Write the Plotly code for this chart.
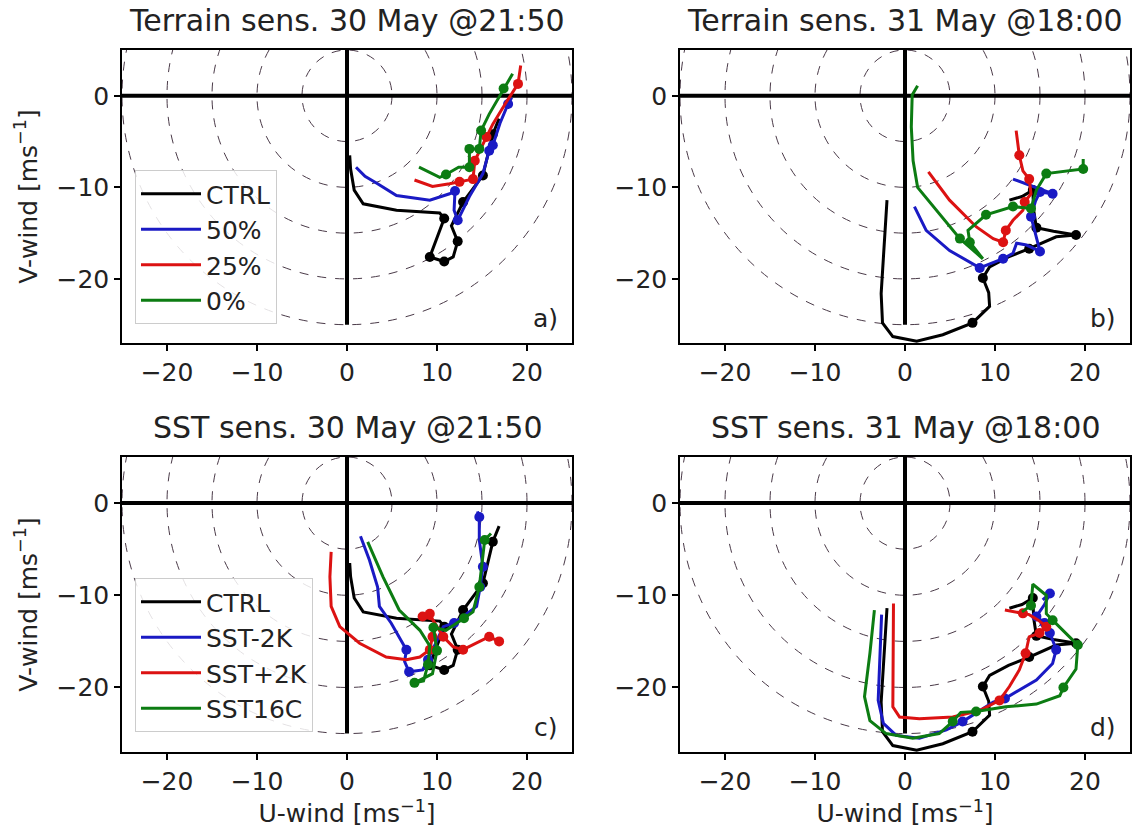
import numpy as np
import plotly.graph_objects as go

# ---------------- data (u, v in m/s; mk = 1 where a height marker is drawn) ----------------
# 30 May @21:50 control run (panels a and c)
ctrl30_u = [0.3, 0.4, 0.8, 1.8, 5.5, 10.3, 10.8, 9.2, 10.8, 11.8, 12.3, 11.6, 12.9, 15.1, 16.2, 16.9]
ctrl30_v = [-6.5, -8.0, -10.3, -11.8, -12.5, -12.8, -13.4, -17.6, -18.1, -17.6, -15.9, -14.2, -11.6, -8.7, -4.2, -2.5]
ctrl30_mk = [0, 0, 0, 0, 0, 0, 1, 1, 1, 0, 1, 0, 1, 1, 1, 0]

# 31 May @18:00 control run (panels b and d)
ctrl31_u = [-2.0, -2.3, -2.65, -2.5, -1.35, 1.3, 4.2, 7.5, 9.4, 9.3, 8.65, 9.4, 11.5, 13.8, 16.8, 19.0, 16.5, 14.6, 14.3, 14.2, 13.0, 11.6]
ctrl31_v = [-11.4, -16.1, -21.6, -24.8, -26.3, -26.8, -26.1, -24.8, -23.0, -21.5, -19.9, -18.7, -17.6, -16.7, -15.4, -15.2, -14.8, -14.4, -12.5, -10.3, -11.0, -11.4]
ctrl31_mk = [0, 0, 0, 0, 0, 0, 0, 1, 0, 0, 1, 0, 0, 1, 0, 1, 0, 1, 0, 1, 0, 0]

# panel a: terrain sensitivity, 30 May
a_t50_u = [1.0, 2.0, 3.4, 5.5, 9.2, 11.4, 12.0, 11.9, 12.3, 13.6, 15.1, 15.8, 16.2, 17.0, 17.9, 18.3]
a_t50_v = [-7.8, -8.8, -9.6, -10.9, -11.4, -10.7, -10.4, -12.5, -13.6, -11.0, -8.5, -6.0, -5.4, -3.0, -0.9, -0.2]
a_t50_mk = [0, 0, 0, 0, 0, 0, 1, 0, 1, 0, 0, 1, 1, 0, 1, 0]
a_t25_u = [7.5, 9.5, 11.4, 12.5, 14.0, 14.2, 15.5, 16.2, 17.5, 19.0, 19.3]
a_t25_v = [-9.2, -9.9, -9.6, -9.4, -9.1, -7.1, -4.5, -3.1, -1.0, 1.3, 3.3]
a_t25_mk = [0, 0, 0, 1, 1, 1, 1, 0, 0, 1, 0]
a_t0_u = [8.0, 10.3, 11.0, 12.4, 13.6, 13.6, 14.7, 14.9, 15.8, 17.4, 18.4]
a_t0_v = [-7.8, -8.9, -8.6, -7.8, -7.8, -5.8, -5.8, -3.8, -2.0, 0.8, 2.4]
a_t0_mk = [0, 0, 1, 0, 1, 1, 1, 1, 0, 1, 0]

# panel b: terrain sensitivity, 31 May
b_t50_u = [1.05, 2.35, 4.95, 8.3, 10.9, 12.0, 12.4, 13.5, 15.0, 14.6, 14.0, 14.5, 15.0, 16.4, 14.5, 12.0]
b_t50_v = [-12.1, -14.7, -16.9, -18.8, -17.8, -17.2, -16.1, -16.3, -17.0, -15.4, -13.2, -11.5, -10.5, -10.7, -10.0, -9.1]
b_t50_mk = [0, 0, 0, 1, 1, 0, 0, 0, 1, 0, 1, 0, 1, 1, 0, 0]
b_t25_u = [2.6, 4.95, 7.9, 9.8, 10.9, 11.2, 12.0, 13.1, 13.3, 14.0, 13.8, 13.1, 12.7, 12.35]
b_t25_v = [-8.3, -11.4, -14.3, -15.6, -16.0, -14.7, -13.6, -12.5, -11.6, -10.7, -9.1, -8.2, -6.5, -3.8]
b_t25_mk = [0, 0, 0, 0, 1, 1, 0, 0, 1, 0, 1, 0, 1, 0]
b_t0_u = [1.4, 0.8, 0.7, 0.9, 1.4, 3.5, 6.1, 8.65, 7.2, 7.0, 9.0, 12.0, 14.0, 14.6, 15.7, 19.8, 19.8]
b_t0_v = [1.1, 0.1, -3.4, -7.1, -10.0, -12.5, -15.6, -17.8, -16.0, -14.7, -13.0, -12.1, -12.3, -10.3, -8.5, -8.0, -6.9]
b_t0_mk = [0, 0, 0, 0, 0, 0, 1, 0, 1, 0, 1, 1, 1, 0, 1, 1, 0]

# panel c: SST sensitivity, 30 May
c_m2_u = [1.5, 2.5, 3.4, 3.6, 4.9, 6.2, 6.6, 6.4, 6.9, 8.4, 9.0, 10.7, 11.9, 12.9, 14.4, 14.8, 15.1, 14.7, 14.7, 14.5]
c_m2_v = [-3.6, -6.2, -9.1, -11.2, -13.0, -15.2, -15.9, -17.2, -18.3, -18.1, -17.0, -13.4, -13.0, -12.3, -11.2, -9.1, -6.9, -4.0, -1.5, -0.9]
c_m2_mk = [0, 0, 0, 0, 0, 0, 1, 0, 1, 0, 1, 0, 1, 0, 0, 1, 1, 0, 1, 0]
c_p2_u = [-1.76, -1.9, -1.76, -0.8, 1.4, 4.35, 6.6, 8.1, 9.2, 9.5, 9.9, 9.2, 8.4, 9.5, 10.7, 11.8, 12.9, 14.4, 15.8, 16.9]
c_p2_v = [-5.3, -8.0, -11.2, -13.4, -15.2, -16.7, -17.0, -16.7, -15.9, -14.5, -13.4, -12.0, -12.3, -12.6, -14.5, -15.6, -15.9, -15.2, -14.5, -15.0]
c_p2_mk = [0, 0, 0, 0, 0, 0, 0, 0, 1, 1, 0, 1, 1, 0, 1, 0, 1, 0, 1, 1]
c_16_u = [2.3, 4.0, 5.8, 8.1, 9.2, 9.0, 8.5, 7.5, 9.5, 10.0, 9.6, 11.0, 13.0, 14.0, 14.7, 15.0, 15.3, 16.0]
c_16_v = [-4.2, -8.0, -11.6, -13.8, -15.5, -17.5, -19.3, -19.5, -18.5, -16.0, -13.5, -13.8, -12.5, -11.8, -9.1, -6.5, -4.0, -3.3]
c_16_mk = [0, 0, 0, 0, 0, 1, 0, 1, 0, 1, 1, 0, 1, 0, 1, 0, 1, 0]

# panel d: SST sensitivity, 31 May
d_m2_u = [-2.6, -2.8, -2.98, -2.4, -0.98, 1.6, 4.6, 6.4, 7.9, 9.8, 11.1, 12.7, 14.6, 16.4, 16.8, 16.1, 15.5, 14.6, 15.5, 16.1, 15.3]
d_m2_v = [-12.1, -16.3, -21.4, -23.9, -25.2, -25.5, -24.6, -23.7, -22.8, -21.6, -21.2, -20.3, -19.2, -17.4, -15.9, -14.1, -13.0, -12.3, -11.0, -9.8, -10.5]
d_m2_mk = [0, 0, 0, 0, 0, 0, 0, 1, 0, 0, 1, 0, 0, 0, 1, 1, 1, 1, 0, 1, 0]
d_p2_u = [-1.28, -1.35, -1.35, -0.6, 1.6, 5.3, 8.3, 10.5, 11.6, 12.7, 13.4, 13.8, 14.95, 15.7, 14.8, 13.8, 13.1, 11.1]
d_p2_v = [-10.9, -16.3, -22.1, -23.2, -23.4, -23.2, -22.5, -21.4, -19.9, -18.1, -16.3, -14.5, -14.1, -13.4, -12.7, -12.1, -11.96, -11.6]
d_p2_mk = [0, 0, 0, 0, 0, 0, 0, 1, 0, 0, 1, 0, 1, 1, 0, 0, 1, 0]
d_16_u = [-3.4, -3.9, -4.5, -3.9, -2.1, 0.87, 3.8, 5.3, 6.2, 7.9, 11.2, 14.6, 17.2, 17.6, 19.0, 19.2, 16.4, 15.7, 15.7, 14.2, 14.0, 13.0]
d_16_v = [-11.6, -16.3, -21.0, -23.6, -25.0, -25.5, -25.0, -23.7, -22.7, -22.6, -22.1, -21.8, -20.9, -20.0, -18.0, -15.4, -12.7, -12.0, -10.0, -8.8, -11.1, -11.8]
d_16_mk = [0, 0, 0, 0, 0, 0, 0, 1, 0, 1, 0, 0, 0, 1, 0, 1, 1, 0, 0, 0, 1, 0]

panel_titles = ["Terrain sens. 30 May @21:50", "Terrain sens. 31 May @18:00",
                "SST sens. 30 May @21:50", "SST sens. 31 May @18:00"]
panel_letters = ["a)", "b)", "c)", "d)"]
terrain_names = ["CTRL", "50%", "25%", "0%"]
sst_names = ["CTRL", "SST-2K", "SST+2K", "SST16C"]
x_tickvals = [-20, -10, 0, 10, 20]
x_ticktext = ["\u221220", "\u221210", "0", "10", "20"]
y_tickvals = [0, -10, -20]
y_ticktext = ["0", "\u221210", "\u221220"]
ring_radii = [5, 10, 15, 20, 25]

# ---------------- style ----------------
W, H = 1132, 837
FONT = "DejaVu Sans"
TXT = "#222222"
colors = ["#000000", "#1a1ac4", "#dc1212", "#0c7c12"]
XR = [-25, 25]
YR = [-27, 5]

# panel boxes in pixels: (left, right, top, bottom)
boxes = [(122, 572, 50, 343), (680, 1130, 50, 343),
         (122, 572, 457, 752), (680, 1130, 457, 752)]

fig = go.Figure()

panels = [
    ([(ctrl30_u, ctrl30_v, ctrl30_mk), (a_t50_u, a_t50_v, a_t50_mk),
      (a_t25_u, a_t25_v, a_t25_mk), (a_t0_u, a_t0_v, a_t0_mk)], terrain_names, "legend"),
    ([(ctrl31_u, ctrl31_v, ctrl31_mk), (b_t50_u, b_t50_v, b_t50_mk),
      (b_t25_u, b_t25_v, b_t25_mk), (b_t0_u, b_t0_v, b_t0_mk)], terrain_names, None),
    ([(ctrl30_u, ctrl30_v, ctrl30_mk), (c_m2_u, c_m2_v, c_m2_mk),
      (c_p2_u, c_p2_v, c_p2_mk), (c_16_u, c_16_v, c_16_mk)], sst_names, "legend2"),
    ([(ctrl31_u, ctrl31_v, ctrl31_mk), (d_m2_u, d_m2_v, d_m2_mk),
      (d_p2_u, d_p2_v, d_p2_mk), (d_16_u, d_16_v, d_16_mk)], sst_names, None),
]

shapes = []
annotations = []
layout_axes = {}

for i, (series, names, leg) in enumerate(panels):
    k = "" if i == 0 else str(i + 1)
    xref, yref = "x" + k, "y" + k
    l, r, t, b = boxes[i]
    for j, ((u, v, mk), name) in enumerate(zip(series, names)):
        fig.add_trace(go.Scatter(
            x=u, y=v, mode="lines", name=name,
            line=dict(color=colors[j], width=3),
            xaxis=xref, yaxis=yref,
            showlegend=leg is not None,
            legend=leg if leg else "legend",
            legendgroup=f"p{i}_{j}",
        ))
        mu = [x for x, m in zip(u, mk) if m]
        mv = [y for y, m in zip(v, mk) if m]
        fig.add_trace(go.Scatter(
            x=mu, y=mv, mode="markers", name=name,
            marker=dict(color=colors[j], size=10, line=dict(width=0)),
            xaxis=xref, yaxis=yref, showlegend=False,
            legendgroup=f"p{i}_{j}",
        ))
    # dashed range rings
    for rr in ring_radii:
        shapes.append(dict(type="circle", xref=xref, yref=yref,
                           x0=-rr, x1=rr, y0=-rr, y1=rr,
                           line=dict(color="#4a3a48", width=1, dash="dash"),
                           layer="below"))
    # thick zero lines
    shapes.append(dict(type="line", xref=xref, yref=yref, x0=-25, x1=25, y0=0, y1=0,
                       line=dict(color="black", width=4), layer="below"))
    shapes.append(dict(type="line", xref=xref, yref=yref, x0=0, x1=0, y0=-25, y1=25,
                       line=dict(color="black", width=4), layer="below"))

    xdom = [l / W, r / W]
    ydom = [1 - b / H, 1 - t / H]
    bottom_row = i >= 2
    left_col = i % 2 == 0
    xa = dict(
        domain=xdom, range=XR, anchor=yref, tickvals=x_tickvals, ticktext=x_ticktext,
        showline=True, mirror=True, linecolor="black", linewidth=1.5,
        ticks="outside", ticklen=6, tickwidth=1.5, tickcolor="black",
        showgrid=False, zeroline=False, tickfont=dict(size=25, family=FONT, color=TXT),
    )
    if bottom_row:
        xa["title"] = dict(text="U-wind [ms<sup>\u22121</sup>]",
                           font=dict(size=25, family=FONT, color=TXT), standoff=6)
    ya = dict(
        domain=ydom, range=YR, anchor=xref, tickvals=y_tickvals, ticktext=y_ticktext,
        showline=True, mirror=True, linecolor="black", linewidth=1.5,
        ticks="outside", ticklen=6, tickwidth=1.5, tickcolor="black",
        showgrid=False, zeroline=False, tickfont=dict(size=25, family=FONT, color=TXT),
    )
    if left_col:
        ya["title"] = dict(text="V-wind [ms<sup>\u22121</sup>]",
                           font=dict(size=25, family=FONT, color=TXT), standoff=12)
    layout_axes["xaxis" + k] = xa
    layout_axes["yaxis" + k] = ya
    # title
    annotations.append(dict(text=panel_titles[i], xref="paper", yref="paper",
                            x=(l + r) / 2 / W, y=1 - (t - 10) / H, xanchor="center", yanchor="bottom",
                            showarrow=False, font=dict(size=30, family=FONT, color=TXT)))
    # panel letter
    annotations.append(dict(text=panel_letters[i], xref="paper", yref="paper",
                            x=(r - 12) / W, y=1 - (b - 8) / H, xanchor="right", yanchor="bottom",
                            showarrow=False, font=dict(size=25, family=FONT, color=TXT)))

legend_style = dict(font=dict(size=25, family=FONT, color=TXT), bgcolor="rgba(255,255,255,0.85)",
                    bordercolor="#cccccc", borderwidth=1, xanchor="left", yanchor="top",
                    tracegroupgap=7, itemwidth=60, traceorder="normal")

fig.update_layout(
    width=W, height=H, margin=dict(l=0, r=0, t=0, b=0),
    paper_bgcolor="white", plot_bgcolor="white",
    font=dict(family=FONT, color=TXT),
    shapes=shapes, annotations=annotations,
    legend=dict(x=135 / W, y=1 - 170 / H, **legend_style),
    legend2=dict(x=135 / W, y=1 - 578 / H, **legend_style),
    **layout_axes,
)

fig.write_html("out.html")
